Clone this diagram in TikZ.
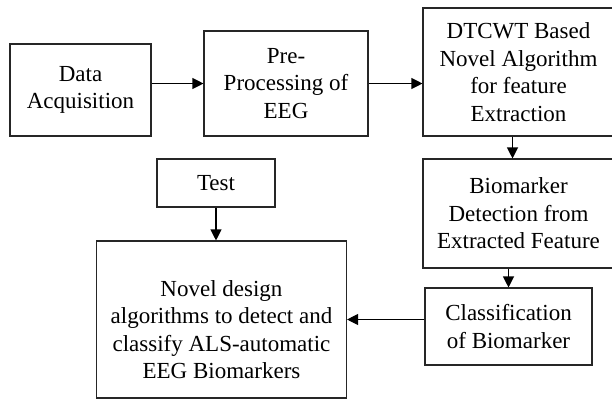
\documentclass[tikz,border=0pt]{standalone}
\usepackage{fontspec}
\setmainfont{Liberation Serif}
\usetikzlibrary{arrows.meta, positioning}

\begin{document}
\begin{tikzpicture}[x=1pt, y=-1pt,
    every node/.style={font=\fontsize{23}{27.5}\selectfont},
    box/.style={draw=black!85, line width=1.1pt, inner sep=0pt, align=center},
    arr/.style={-{Triangle[length=11pt,width=11pt]}, line width=1.1pt}]
    \clip (0,0) rectangle (612,400);
    % top row
    \node[box, minimum width=141pt, minimum height=92pt] (acq) at (80.5,90) {Data\\Acquisition};
    \node[box, minimum width=164pt, minimum height=105pt] (prep) at (286,83.5) {Pre-\\Processing of\\EEG};
    \node[box, minimum width=191pt, minimum height=128pt] (dtcwt) at (518.5,72) {DTCWT Based\\Novel Algorithm\\for feature\\Extraction};
    % right column
    \node[box, minimum width=191pt, minimum height=109pt] (biomk) at (518.5,213.5) {Biomarker\\Detection from\\Extracted Feature};
    \node[box, minimum width=167pt, minimum height=77pt] (classif) at (508.5,326.5) {Classification\\of Biomarker};
    % left part
    \node[box, minimum width=118pt, minimum height=48pt] (test) at (216,183) {Test};
    \node[box, minimum width=250pt, minimum height=157pt] (novel) at (221.5,319.5) {\rule{0pt}{36pt}Novel design\\algorithms to detect and\\classify ALS-automatic\\EEG Biomarkers};
    % connectors
    \draw[arr] (acq.east |- prep.west) -- (prep.west);
    \draw[arr] (prep.east) -- (prep.east -| dtcwt.west);
    \draw[arr] ([xshift=-6pt]dtcwt.south) -- ([xshift=-6pt]biomk.north);
    \draw[arr] (biomk.south -| classif.north) -- (classif.north);
    \draw[arr] (classif.west |- novel.east) -- (novel.east);
    \draw[arr] (test.south) -- (test.south |- novel.north);
\end{tikzpicture}
\end{document}
